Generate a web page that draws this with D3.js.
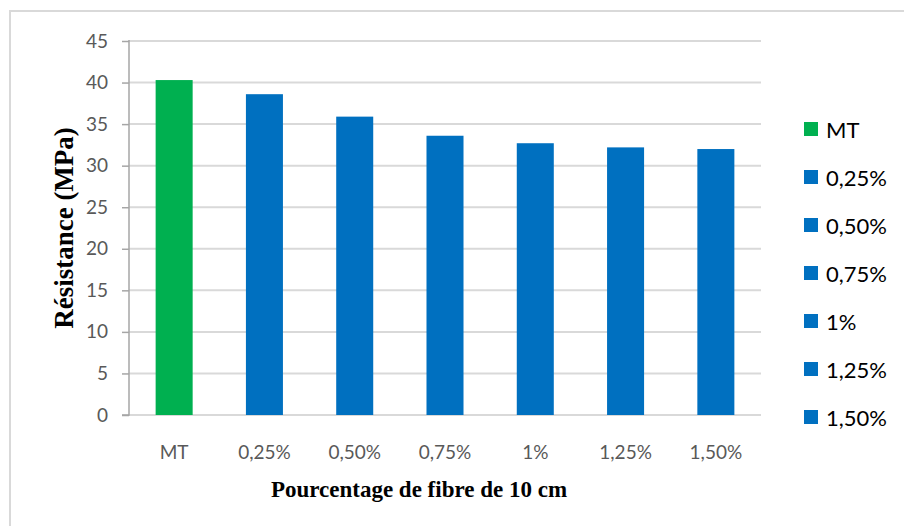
<!DOCTYPE html>
<html>
<head>
<meta charset="utf-8">
<script src="https://cdn.jsdelivr.net/npm/d3@7"></script>
<style>
  html, body { margin: 0; padding: 0; background: #fff; }
  svg { display: block; }
</style>
</head>
<body>
<svg id="chart" width="904" height="526"></svg>
<script>
// Compressive strength by fibre percentage (10 cm fibres)
const categories = ["MT", "0,25%", "0,50%", "0,75%", "1%", "1,25%", "1,50%"];
const values = [40.3, 38.6, 35.9, 33.6, 32.7, 32.2, 32.0];
const barColors = ["#00b050", "#0070c0", "#0070c0", "#0070c0", "#0070c0", "#0070c0", "#0070c0"];
const yTicks = [0, 5, 10, 15, 20, 25, 30, 35, 40, 45];
const yTitle = "Résistance (MPa)";
const xTitle = "Pourcentage de fibre de 10 cm";

const svg = d3.select("#chart");
const plot = { left: 129, right: 761, top: 41, bottom: 415 };
const labelFont = "Lato, 'Open Sans', sans-serif";
const titleFont = "'Liberation Serif', 'Times New Roman', serif";

// chart frame
svg.append("rect")
  .attr("x", 10).attr("y", 11)
  .attr("width", 904).attr("height", 526)
  .attr("fill", "#fff")
  .attr("stroke", "#d9d9d9").attr("stroke-width", 2);

const x = d3.scaleBand()
  .domain(categories)
  .range([plot.left, plot.right])
  .paddingInner(0.59)
  .paddingOuter(0.295);

const y = d3.scaleLinear()
  .domain([0, 45])
  .range([plot.bottom, plot.top]);

// horizontal gridlines
svg.append("g")
  .selectAll("line")
  .data(yTicks)
  .join("line")
  .attr("x1", plot.left).attr("x2", plot.right)
  .attr("y1", d => y(d)).attr("y2", d => y(d))
  .attr("stroke", "#d9d9d9").attr("stroke-width", 2);

// bars
svg.append("g")
  .selectAll("rect")
  .data(values)
  .join("rect")
  .attr("x", (d, i) => x(categories[i]))
  .attr("y", d => y(d))
  .attr("width", x.bandwidth())
  .attr("height", d => y(0) - y(d))
  .attr("fill", (d, i) => barColors[i]);

// y axis
const yAxis = svg.append("g")
  .attr("transform", `translate(${plot.left},0)`)
  .call(d3.axisLeft(y).tickValues(yTicks).tickSize(7).tickPadding(14));
yAxis.select(".domain").attr("stroke", "#a6a6a6").attr("stroke-width", 1.5)
  .attr("d", `M-7,${plot.bottom}H0V${plot.top - 1}`);
yAxis.selectAll(".tick line").attr("stroke", "#a6a6a6").attr("stroke-width", 1.5);
yAxis.selectAll(".tick text")
  .attr("fill", "#595959")
  .attr("font-family", labelFont)
  .attr("font-size", 19);

// x axis labels
const xAxis = svg.append("g")
  .attr("transform", `translate(0,${plot.bottom})`)
  .call(d3.axisBottom(x).tickSize(0).tickPadding(31));
xAxis.select(".domain").remove();
xAxis.selectAll(".tick text")
  .attr("fill", "#595959")
  .attr("font-family", labelFont)
  .attr("font-size", 19);

// axis titles
svg.append("text")
  .attr("x", 419)
  .attr("y", 497)
  .attr("text-anchor", "middle")
  .attr("font-family", titleFont)
  .attr("font-weight", "bold")
  .attr("font-size", 23)
  .attr("fill", "#000")
  .text(xTitle);

svg.append("text")
  .attr("transform", `translate(73,${(plot.top + plot.bottom) / 2}) rotate(-90)`)
  .attr("text-anchor", "middle")
  .attr("font-family", titleFont)
  .attr("font-weight", "bold")
  .attr("font-size", 27)
  .attr("fill", "#000")
  .text(yTitle);

// legend
const legend = svg.append("g")
  .selectAll("g")
  .data(categories)
  .join("g")
  .attr("transform", (d, i) => `translate(804,${129 + i * 48})`);
legend.append("rect")
  .attr("x", 0).attr("y", -7)
  .attr("width", 14).attr("height", 14)
  .attr("fill", (d, i) => barColors[i]);
legend.append("text")
  .attr("x", 22).attr("y", 1)
  .attr("dy", "0.35em")
  .attr("font-family", labelFont)
  .attr("font-size", 22)
  .attr("fill", "#000")
  .text(d => d);
</script>
</body>
</html>
